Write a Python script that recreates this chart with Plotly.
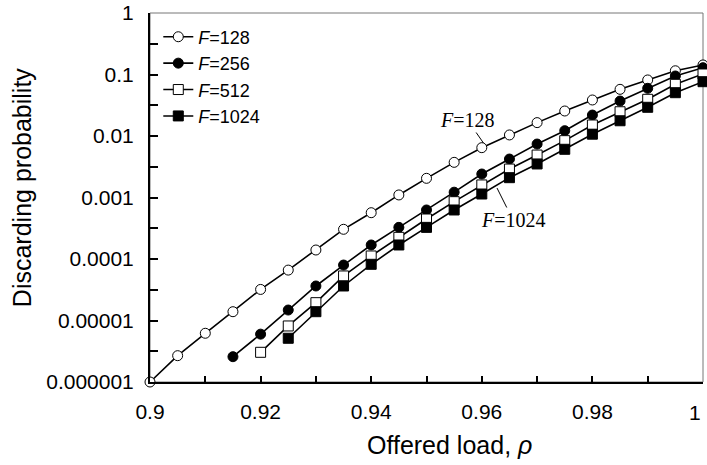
import plotly.graph_objects as go

rho_128 = [0.900, 0.905, 0.910, 0.915, 0.920, 0.925, 0.930, 0.935, 0.940, 0.945, 0.950,
           0.955, 0.960, 0.965, 0.970, 0.975, 0.980, 0.985, 0.990, 0.995, 1.000]
p_128 = [1.0e-6, 2.68e-6, 6.2e-6, 1.39e-5, 3.2e-5, 6.6e-5, 1.4e-4, 3.04e-4, 5.66e-4, 1.1e-3, 2.05e-3,
         3.73e-3, 6.46e-3, 1.04e-2, 1.65e-2, 2.55e-2, 3.85e-2, 5.74e-2, 8.15e-2, 0.115, 0.143]

rho_256 = [0.915, 0.920, 0.925, 0.930, 0.935, 0.940, 0.945, 0.950, 0.955, 0.960,
           0.965, 0.970, 0.975, 0.980, 0.985, 0.990, 0.995, 1.000]
p_256 = [2.58e-6, 6.0e-6, 1.48e-5, 3.64e-5, 7.98e-5, 1.69e-4, 3.27e-4, 6.27e-4, 1.22e-3, 2.41e-3,
         4.22e-3, 7.4e-3, 1.22e-2, 2.19e-2, 3.7e-2, 5.96e-2, 9.46e-2, 0.129]

rho_512 = [0.920, 0.925, 0.930, 0.935, 0.940, 0.945, 0.950, 0.955, 0.960,
           0.965, 0.970, 0.975, 0.980, 0.985, 0.990, 0.995, 1.000]
p_512 = [3.04e-6, 8.15e-6, 1.95e-5, 5.3e-5, 1.12e-4, 2.25e-4, 4.47e-4, 8.55e-4, 1.6e-3,
         2.9e-3, 4.9e-3, 8.4e-3, 1.51e-2, 2.48e-2, 3.95e-2, 6.93e-2, 0.102]

rho_1024 = [0.925, 0.930, 0.935, 0.940, 0.945, 0.950, 0.955, 0.960,
            0.965, 0.970, 0.975, 0.980, 0.985, 0.990, 0.995, 1.000]
p_1024 = [5.14e-6, 1.39e-5, 3.64e-5, 8.2e-5, 1.69e-4, 3.27e-4, 6.27e-4, 1.14e-3,
          2.1e-3, 3.51e-3, 6.08e-3, 1.07e-2, 1.77e-2, 2.93e-2, 5.06e-2, 7.64e-2]

x_tickvals = [0.9, 0.92, 0.94, 0.96, 0.98, 1.0]
x_ticktext = ["0.9", "0.92", "0.94", "0.96", "0.98", ""]
x_last_label = "1"
x_minor = [0.91, 0.93, 0.95, 0.97, 0.99]
y_tickvals = [1e-6, 1e-5, 1e-4, 1e-3, 1e-2, 1e-1, 1]
y_ticktext = ["0.000001", "0.00001", "0.0001", "0.001", "0.01", "0.1", "1"]
y_minor = [10 ** (k + 0.5) for k in range(-6, 0)]

series = [
    ("<i>F</i>=128", rho_128, p_128, "circle", True),
    ("<i>F</i>=256", rho_256, p_256, "circle", False),
    ("<i>F</i>=512", rho_512, p_512, "square", True),
    ("<i>F</i>=1024", rho_1024, p_1024, "square", False),
]

fig = go.Figure()
for name, xs, ys, sym, open_ in series:
    fig.add_trace(go.Scatter(
        x=xs, y=ys, name=name, mode="lines+markers", cliponaxis=False,
        line=dict(color="black", width=1.6),
        marker=dict(symbol=sym, size=10,
                    color="white" if open_ else "black",
                    line=dict(color="black", width=1)),
    ))

font_sans = "Liberation Sans, Arial, sans-serif"
font_serif = "Liberation Serif, Times New Roman, serif"

fig.update_layout(
    width=707, height=465,
    margin=dict(l=150, r=4, t=13, b=83),
    paper_bgcolor="white", plot_bgcolor="white",
    font=dict(family=font_sans, size=21, color="black"),
    showlegend=True,
    legend=dict(x=0.015, y=0.985, xanchor="left", yanchor="top",
                bgcolor="rgba(0,0,0,0)", font=dict(size=18, family=font_sans),
                itemwidth=30, tracegroupgap=0),
    xaxis=dict(range=[0.9, 1.0], tickvals=x_tickvals, ticktext=x_ticktext,
               ticks="inside", ticklen=6, tickwidth=1.5, tickcolor="black",
               showline=True, linecolor="black", linewidth=2, showgrid=False,
               zeroline=False, ticklabelstandoff=10, automargin=False,
               ticklabeloverflow="allow",
               minor=dict(tickvals=x_minor, ticks="inside",
                          ticklen=6, tickwidth=1.5, tickcolor="black", showgrid=False),
               tickfont=dict(size=21)),
    yaxis=dict(type="log", range=[-6, 0], tickvals=y_tickvals, ticktext=y_ticktext,
               ticks="inside", ticklen=8, tickwidth=1.5, tickcolor="black",
               showline=True, linecolor="black", linewidth=2, showgrid=False,
               zeroline=False, ticklabelstandoff=10, automargin=False,
               ticklabeloverflow="allow",
               minor=dict(tickvals=y_minor, ticks="inside", ticklen=8, tickwidth=1.5,
                          tickcolor="black", showgrid=False),
               tickfont=dict(size=21)),
    shapes=[dict(type="rect", xref="paper", yref="paper", x0=0, x1=1, y0=0, y1=1,
                 line=dict(color="#777777", width=1), layer="below")],
    annotations=[
        dict(text=x_last_label, xref="paper", yref="paper", x=1.0, y=-0.083,
             xanchor="right", yanchor="middle", showarrow=False,
             font=dict(size=21, family=font_sans)),
        dict(text="Offered load, <i>ρ</i>", xref="paper", yref="paper",
             x=0.5407, y=-0.1707, xanchor="center", yanchor="middle",
             showarrow=False, font=dict(size=25, family=font_sans)),
        dict(text="Discarding probability", xref="paper", yref="paper",
             x=-0.2315, y=0.528, xanchor="center", yanchor="middle", textangle=-90,
             showarrow=False, font=dict(size=25, family=font_sans)),
        dict(text="<i>F</i>=128", x=0.9603, y=-2.114, xref="x", yref="y",
             showarrow=True, arrowhead=0, arrowwidth=1, arrowcolor="black",
             ax=-16, ay=-23, font=dict(size=20, family=font_serif)),
        dict(text="<i>F</i>=1024", x=0.96275, y=-2.846, xref="x", yref="y",
             showarrow=True, arrowhead=0, arrowwidth=1, arrowcolor="black",
             ax=16, ay=32, font=dict(size=20, family=font_serif)),
    ],
)

fig.write_html(
    "out.html",
    config={"displayModeBar": False},
    post_script="document.body.style.margin='0';document.body.style.overflow='hidden';",
)
